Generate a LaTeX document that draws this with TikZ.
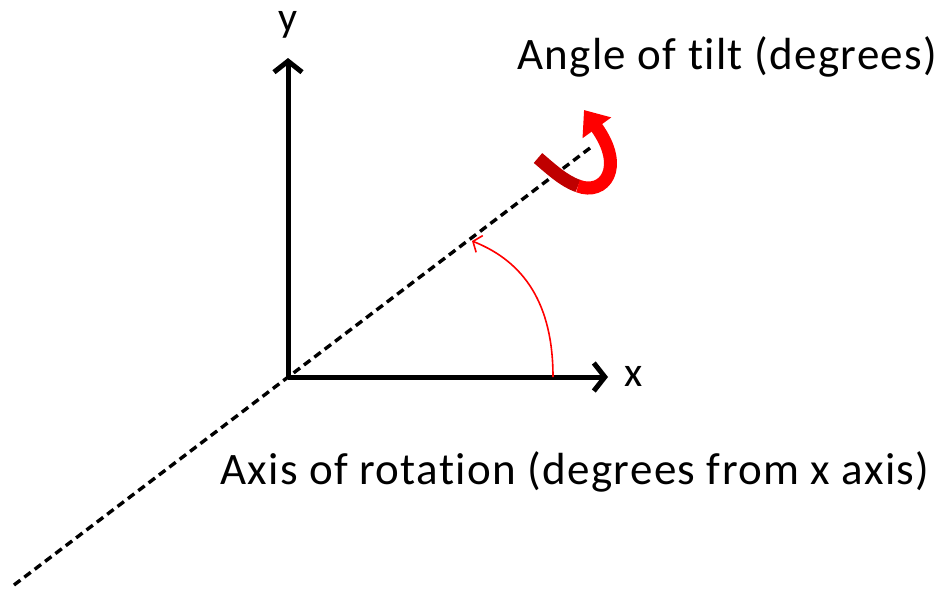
\documentclass[tikz,border=0pt]{standalone}
\usepackage{fontspec}
\setmainfont[Ligatures=NoCommon]{Carlito}
\usetikzlibrary{arrows.meta, positioning, calc}
\tikzstyle{axis}  = [line width=5pt, -{Straight Barb[length=11pt,width=28pt]}]
\tikzstyle{rotax} = [line width=3.4pt, dash pattern=on 8pt off 5pt]
\tikzstyle{angarc} = [red, line width=1.6pt, -{Straight Barb[length=7pt,width=18pt]}]
\tikzstyle{tilt}  = [line width=13pt]
\tikzstyle{lbl}   = [font=\fontsize{45}{52}\selectfont\addfontfeature{LetterSpace=3}, inner sep=0pt]

\begin{document}
\begin{tikzpicture}[x=1pt, y=-1pt]
  \useasboundingbox (0,0) rectangle (941,589);

  % Points of the frame
  \coordinate (origin) at (288,377);
  \coordinate (yend) at (288,58);
  \coordinate (xend) at (608,377);
  \coordinate (dlow) at (14,585);
  \coordinate (dhigh) at (590,148);
  \coordinate (arcstart) at (553,377);
  \coordinate (arcend) at (472,241);
  \coordinate (tiltstart) at (538,158);
  \coordinate (tiltbend) at (578,186);
  \coordinate (tilttip) at (584,110);

  % Labels
  \node[lbl, font=\fontsize{42}{48}\selectfont, anchor=base] (ylab) at (288,31) {y};
  \node[lbl, font=\fontsize{42}{48}\selectfont, anchor=base] (xlab) at (634,386) {x};
  \node[lbl, anchor=base west] (tiltlab) at (517,69) {Angle of tilt (degrees)};
  \node[lbl, anchor=base west] (axislab) at (220,484) {Axis of rotation (degrees from x axis)};

  % Axes
  \draw[rotax] (dlow) -- (dhigh);
  \draw[axis] (origin) -- (yend);
  \draw[axis] (origin) -- (xend);

  % Angle from x axis
  \draw[angarc] (arcstart) .. controls (553,305) and (525,262) .. (arcend);

  % Tilt arrow
  \draw[tilt, red!75!black] (tiltstart) .. controls (552,170) and (564,181) .. (tiltbend);
  \draw[tilt, red, -{Triangle[length=22pt,width=34pt]}] (tiltbend) .. controls (604,196) and (626,168) .. (tilttip);
\end{tikzpicture}
\end{document}
